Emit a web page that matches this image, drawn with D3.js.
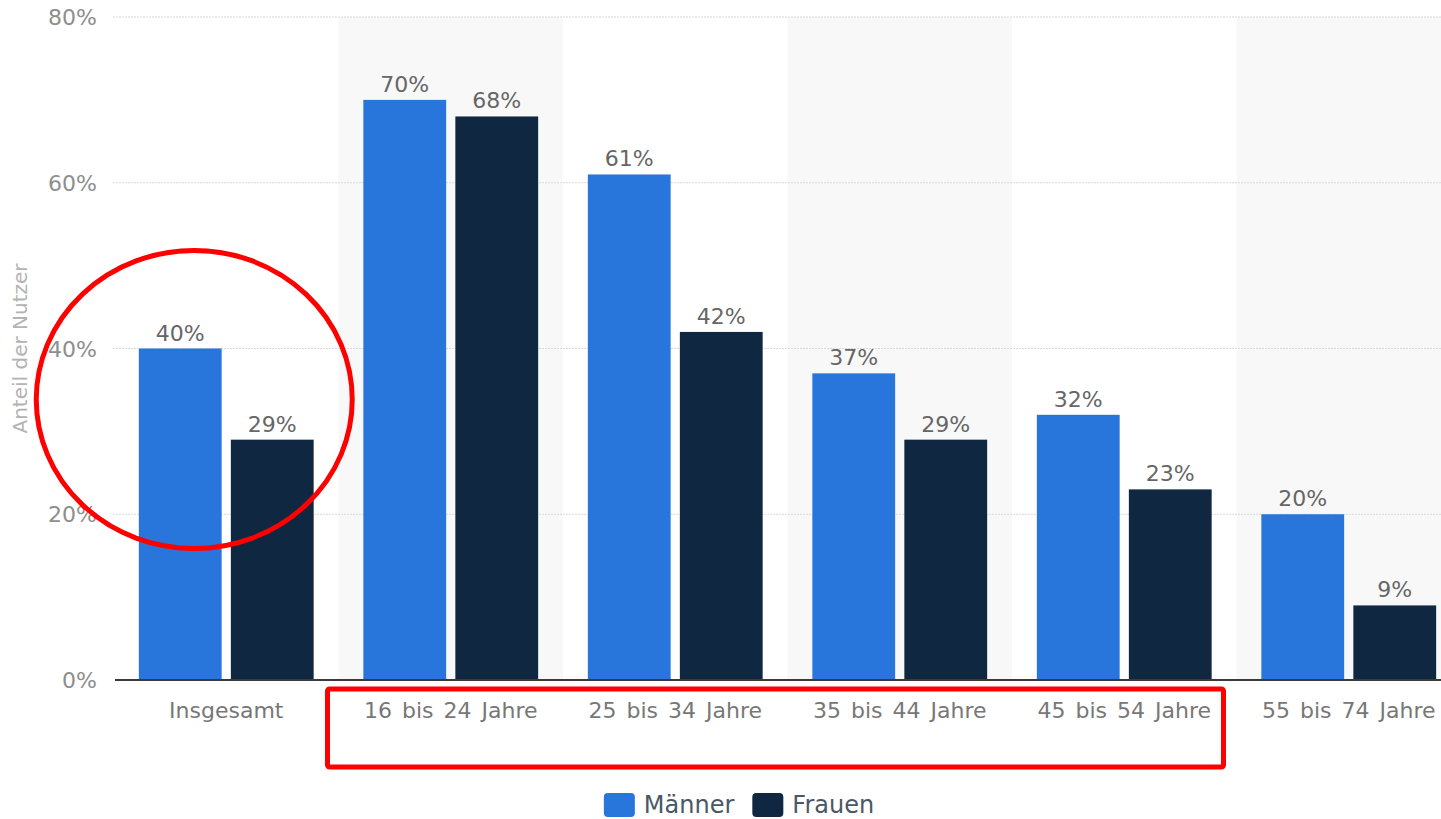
<!DOCTYPE html>
<html lang="de">
<head>
<meta charset="utf-8">
<script src="https://cdn.jsdelivr.net/npm/d3@7/dist/d3.min.js"></script>
<style>
  html, body { margin: 0; padding: 0; background: #fff; overflow: hidden; }
  svg { display: block; }
</style>
</head>
<body>
<svg id="chart" width="1441" height="819"></svg>
<script>
// Anteil der Nutzer nach Altersgruppe und Geschlecht
const categories = ["Insgesamt", "16 bis 24 Jahre", "25 bis 34 Jahre", "35 bis 44 Jahre", "45 bis 54 Jahre", "55 bis 74 Jahre"];
const maenner = [40, 70, 61, 37, 32, 20];
const frauen  = [29, 68, 42, 29, 23, 9];
const seriesNames = ["Männer", "Frauen"];
const yTicks = [0, 20, 40, 60, 80];

const colors = { "Männer": "#2876dc", "Frauen": "#0f2740" };
const font = "'DejaVu Sans', Verdana, sans-serif";

const svg = d3.select("#chart");
const W = 1441, H = 819;
const plot = { left: 114, right: 1461, top: 17, bottom: 680 };

const x = d3.scaleBand().domain(categories).range([plot.left, plot.right]).paddingInner(0).paddingOuter(0);
const xs = d3.scaleBand().domain(seriesNames).range([0, x.bandwidth()]).paddingInner(0.1).paddingOuter(0.27);
const y = d3.scaleLinear().domain([0, 80]).range([plot.bottom, plot.top]);

const rows = categories.map((c, i) => ({ cat: c, values: [
  { s: "Männer", v: maenner[i] }, { s: "Frauen", v: frauen[i] }
]}));

// alternating column shading
svg.append("g").selectAll("rect")
  .data(categories.filter((c, i) => i % 2 === 1))
  .join("rect")
  .attr("x", d => x(d)).attr("y", y(80))
  .attr("width", x.bandwidth()).attr("height", y(0) - y(80))
  .attr("fill", "#f8f8f8");

// horizontal grid
svg.append("g").selectAll("line")
  .data(yTicks.filter(t => t > 0))
  .join("line")
  .attr("x1", plot.left - 1).attr("x2", W)
  .attr("y1", d => y(d)).attr("y2", d => y(d))
  .attr("stroke", "#d9d9d9").attr("stroke-width", 1.2)
  .attr("stroke-dasharray", "2,1");

// y axis tick labels
const yAxis = d3.axisLeft(y).tickValues(yTicks).tickFormat(d => d + "%").tickSize(0).tickPadding(0);
const gy = svg.append("g").attr("transform", `translate(${97},0)`).call(yAxis);
gy.select(".domain").remove();
gy.selectAll("text").attr("font-family", font).attr("font-size", 22).attr("fill", "#8e8e8e").attr("dy", "0.35em");

// y axis title
svg.append("text")
  .attr("transform", `translate(27,${(y(0) + y(80)) / 2}) rotate(-90)`)
  .attr("text-anchor", "middle")
  .attr("font-family", font).attr("font-size", 20).attr("fill", "#b3b3b3")
  .text("Anteil der Nutzer");

// bars
const groups = svg.append("g").selectAll("g")
  .data(rows).join("g")
  .attr("transform", d => `translate(${x(d.cat)},0)`);

groups.selectAll("rect")
  .data(d => d.values).join("rect")
  .attr("x", d => xs(d.s)).attr("width", xs.bandwidth())
  .attr("y", d => y(d.v)).attr("height", d => y(0) - y(d.v))
  .attr("fill", d => colors[d.s]);

groups.selectAll("text")
  .data(d => d.values).join("text")
  .attr("x", d => xs(d.s) + xs.bandwidth() / 2)
  .attr("y", d => y(d.v) - 8)
  .attr("text-anchor", "middle")
  .attr("font-family", font).attr("font-size", 22).attr("fill", "#666")
  .text(d => d.v + "%");

// x axis
const xAxis = d3.axisBottom(x).tickSize(0).tickPadding(22);
const gx = svg.append("g").attr("transform", `translate(0,${plot.bottom})`).call(xAxis);
gx.select(".domain").remove();
gx.selectAll("text").attr("font-family", font).attr("font-size", 22).attr("word-spacing", 3)
  .attr("fill", "#777").attr("dy", "0.71em");
svg.append("line")
  .attr("x1", plot.left + 1).attr("x2", W)
  .attr("y1", y(0)).attr("y2", y(0))
  .attr("stroke", "#3a3a3a").attr("stroke-width", 2);

// legend
const legend = svg.append("g");
let lx = 0;
seriesNames.forEach(s => {
  const g = legend.append("g").attr("transform", `translate(${lx},0)`);
  g.append("rect").attr("x", 0).attr("y", -12).attr("width", 31).attr("height", 24).attr("rx", 4).attr("fill", colors[s]);
  const t = g.append("text").attr("x", 40).attr("y", 0).attr("dy", "0.35em")
    .attr("font-family", font).attr("font-size", 24).attr("fill", "#4a5866").text(s);
  lx += 40 + t.node().getComputedTextLength() + 18;
});
const lw = lx - 18;
legend.attr("transform", `translate(${739 - lw / 2},${805})`);

// highlight markings
const c0 = x(categories[0]);
svg.append("ellipse")
  .attr("cx", c0 + x.bandwidth() / 2 - 32).attr("cy", y(40) + 51)
  .attr("rx", 158).attr("ry", 149)
  .attr("fill", "none").attr("stroke", "#ff0000").attr("stroke-width", 5);
svg.append("rect")
  .attr("x", x(categories[1]) - 11).attr("y", plot.bottom + 9)
  .attr("width", x(categories[4]) + x.bandwidth() - x(categories[1]) - 2).attr("height", 78)
  .attr("rx", 2)
  .attr("fill", "none").attr("stroke", "#ff0000").attr("stroke-width", 5);
</script>
</body>
</html>
